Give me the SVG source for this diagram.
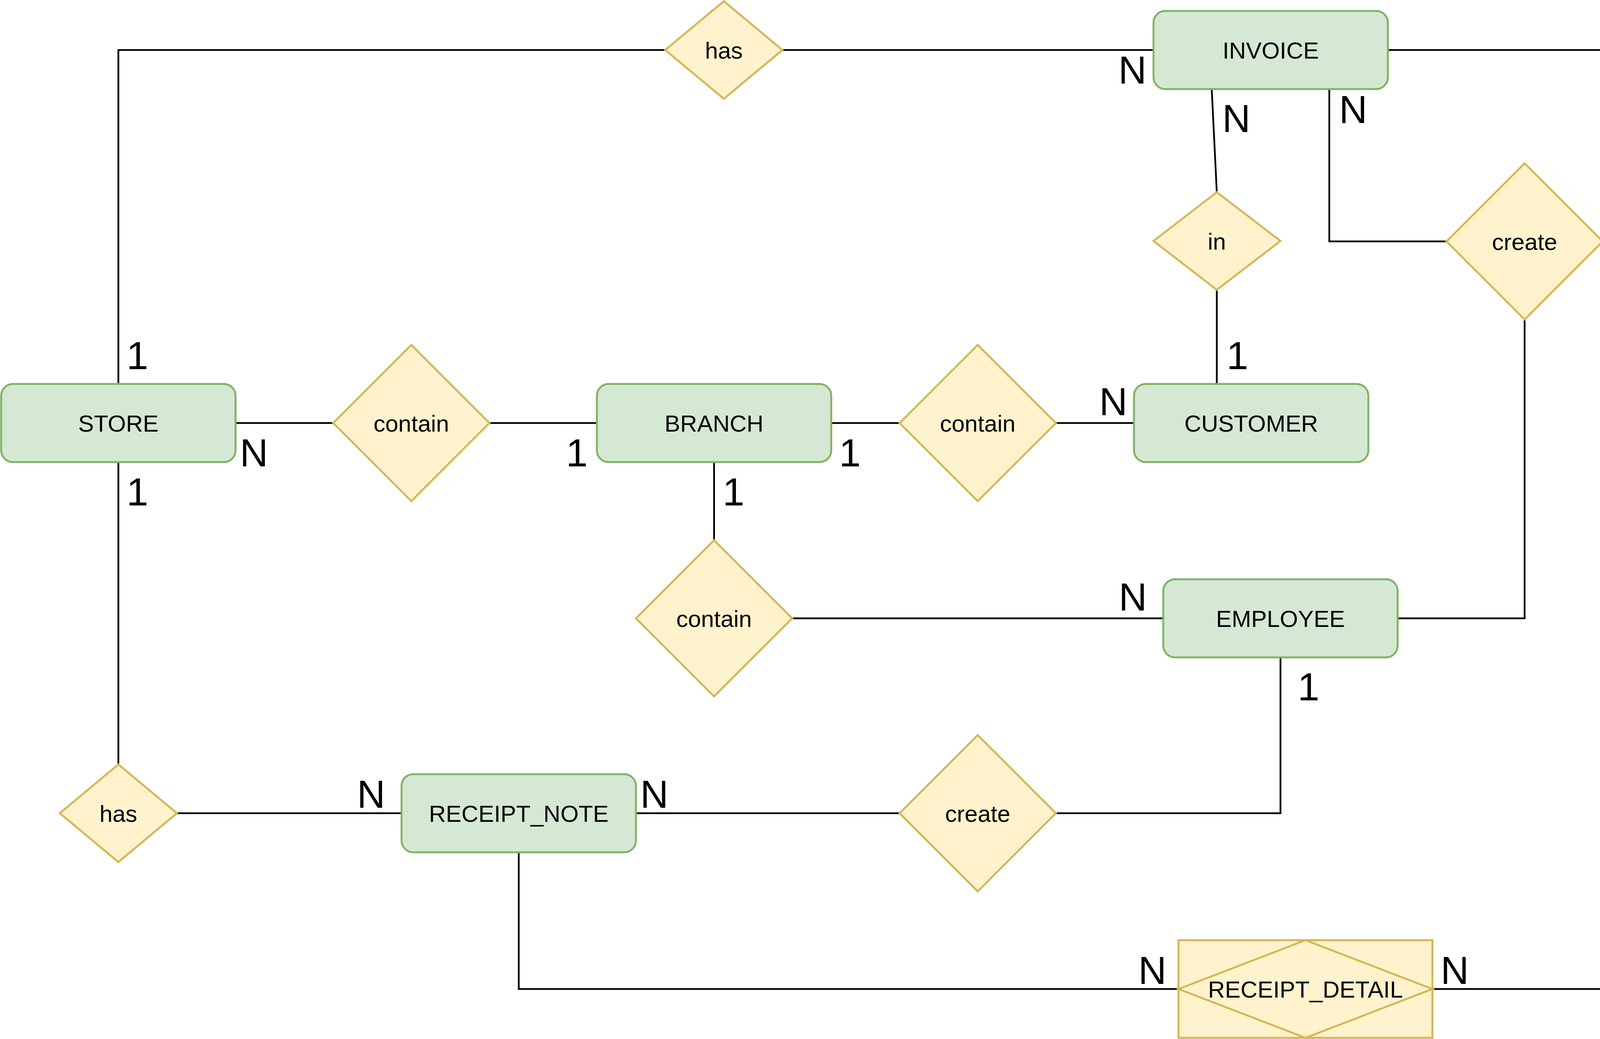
<svg xmlns="http://www.w3.org/2000/svg" width="4905" height="2660" viewBox="0 0 4905 2660">
<style>
.ent{fill:#d5e8d4;stroke:#82b366;stroke-width:5}
.rel{fill:#fff2cc;stroke:#d6b656;stroke-width:5}
.edge{fill:none;stroke:#000;stroke-width:4.5}
.lbl{font-family:"Liberation Sans",Arial,sans-serif;font-size:60px;fill:#000;text-anchor:middle}
.card{font-family:"Liberation Sans",Arial,sans-serif;font-size:100px;fill:#000}
</style>
<rect width="4905" height="2660" fill="#fff"/>
<g id="connectors">
<path class="edge" d="M303,983 V128 H1703"/>
<path class="edge" d="M2003,128 H2953"/>
<path class="edge" d="M3553,128 H4578 V983"/>
<path class="edge" d="M4578,1233 V2432"/>
<path class="edge" d="M3102,228 L3115,492"/>
<path class="edge" d="M3115,742 V983"/>
<path class="edge" d="M3403,228 V618 H3703"/>
<path class="edge" d="M3903,818 V1583 H3578"/>
<path class="edge" d="M603,1083 H853"/>
<path class="edge" d="M1253,1083 H1528"/>
<path class="edge" d="M2128,1083 H2303"/>
<path class="edge" d="M2703,1083 H2903"/>
<path class="edge" d="M1828,1183 V1383"/>
<path class="edge" d="M2028,1583 H2978"/>
<path class="edge" d="M303,1183 V1957"/>
<path class="edge" d="M453,2082 H1028"/>
<path class="edge" d="M1628,2082 H2303"/>
<path class="edge" d="M2703,2082 H3278 V1683"/>
<path class="edge" d="M1328,2182 V2532 H3017"/>
<path class="edge" d="M3667,2532 H4278"/>
</g>
<g id="store"><rect class="ent" x="3" y="983" width="600" height="200" rx="30"/><text class="lbl" x="303" y="1105">STORE</text></g>
<g id="branch"><rect class="ent" x="1528" y="983" width="600" height="200" rx="30"/><text class="lbl" x="1828" y="1105">BRANCH</text></g>
<g id="customer"><rect class="ent" x="2903" y="983" width="600" height="200" rx="30"/><text class="lbl" x="3203" y="1105">CUSTOMER</text></g>
<g id="invoice"><rect class="ent" x="2953" y="28" width="600" height="200" rx="30"/><text class="lbl" x="3253" y="150">INVOICE</text></g>
<g id="employee"><rect class="ent" x="2978" y="1483" width="600" height="200" rx="30"/><text class="lbl" x="3278" y="1605">EMPLOYEE</text></g>
<g id="receipt_note"><rect class="ent" x="1028" y="1982" width="600" height="200" rx="30"/><text class="lbl" x="1328" y="2104">RECEIPT_NOTE</text></g>
<g id="seafood"><rect class="ent" x="4278" y="2432" width="600" height="200" rx="30"/><text class="lbl" x="4578" y="2554">SEAFOOD</text></g>
<g id="has_top"><polygon class="rel" points="1703,128 1853,3 2003,128 1853,253"/><text class="lbl" x="1853" y="150">has</text></g>
<g id="contain_store_branch"><polygon class="rel" points="853,1083 1053,883 1253,1083 1053,1283"/><text class="lbl" x="1053" y="1105">contain</text></g>
<g id="contain_branch_customer"><polygon class="rel" points="2303,1083 2503,883 2703,1083 2503,1283"/><text class="lbl" x="2503" y="1105">contain</text></g>
<g id="contain_branch_employee"><polygon class="rel" points="1628,1583 1828,1383 2028,1583 1828,1783"/><text class="lbl" x="1828" y="1605">contain</text></g>
<g id="in"><polygon class="rel" points="2953,617 3115,492 3278,617 3115,742"/><text class="lbl" x="3115" y="639">in</text></g>
<g id="create_invoice"><polygon class="rel" points="3703,618 3903,418 4103,618 3903,818"/><text class="lbl" x="3903" y="640">create</text></g>
<g id="invoice_detail"><rect class="rel" x="4253" y="983" width="650" height="250"/><polygon class="rel" points="4253,1108 4578,983 4903,1108 4578,1233"/><text class="lbl" x="4578" y="1130">INVOICE_DETAIL</text></g>
<g id="has_bottom"><polygon class="rel" points="153,2082 303,1957 453,2082 303,2207"/><text class="lbl" x="303" y="2104">has</text></g>
<g id="create_receipt"><polygon class="rel" points="2303,2082 2503,1882 2703,2082 2503,2282"/><text class="lbl" x="2503" y="2104">create</text></g>
<g id="receipt_detail"><rect class="rel" x="3017" y="2407" width="650" height="250"/><polygon class="rel" points="3017,2532 3342,2407 3667,2532 3342,2657"/><text class="lbl" x="3342" y="2554">RECEIPT_DETAIL</text></g>
<g id="cardinalities">
<text class="card" x="324" y="945">1</text>
<text class="card" x="614" y="1194">N</text>
<text class="card" x="324" y="1294">1</text>
<text class="card" x="1449" y="1194">1</text>
<text class="card" x="1850" y="1294">1</text>
<text class="card" x="2148" y="1194">1</text>
<text class="card" x="2814" y="1063">N</text>
<text class="card" x="2863" y="214">N</text>
<text class="card" x="3129" y="338">N</text>
<text class="card" x="3428" y="315">N</text>
<text class="card" x="3140" y="945">1</text>
<text class="card" x="4614" y="945">N</text>
<text class="card" x="4612" y="1344">N</text>
<text class="card" x="2864" y="1563">N</text>
<text class="card" x="3322" y="1793">1</text>
<text class="card" x="914" y="2068">N</text>
<text class="card" x="1639" y="2068">N</text>
<text class="card" x="2914" y="2519">N</text>
<text class="card" x="3688" y="2519">N</text>
</g>
</svg>
